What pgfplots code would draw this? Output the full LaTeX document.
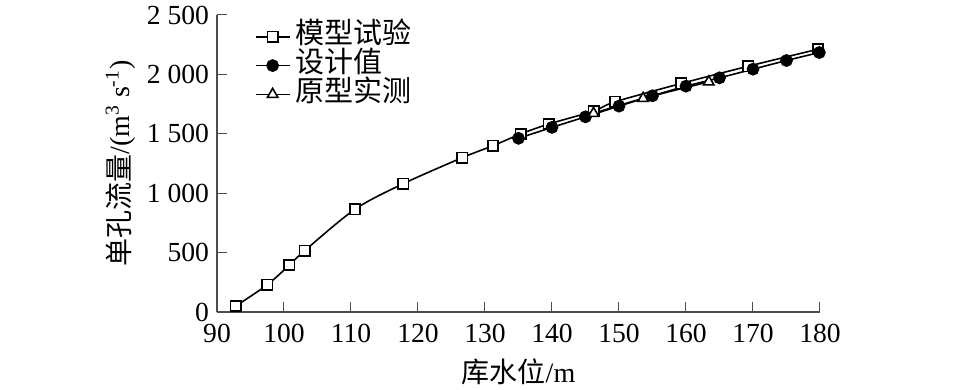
\documentclass[border=0pt]{standalone}
\usepackage{pgfplots}
\pgfplotsset{compat=1.18}
\usepackage{fontspec}
\setmainfont{Liberation Serif}
\newfontfamily\cjk{Noto Sans CJK SC}
\begin{document}
\fontsize{13}{15}\selectfont
\begin{tikzpicture}
\useasboundingbox (-108.5pt,-39pt) rectangle (370pt,156pt);
\begin{axis}[
  at={(0,0)}, anchor=south west,
  scale only axis, width=301.5pt, height=148.5pt,
  xmin=90, xmax=180, ymin=0, ymax=2500,
  axis lines*=left,
  axis line style={line width=0.6pt, black!70},
  tick align=inside,
  major tick length=5pt,
  tick style={line width=0.5pt, black!70},
  xtick={90,100,...,180},
  ytick={0,500,...,2500},
  /pgf/number format/assume math mode=true,
  /pgf/number format/1000 sep={\ },
  ticklabel style={font=\fontsize{13.8}{15}\selectfont},
  yticklabel style={xshift=0.5pt},
  xticklabel style={yshift=-1.5pt},
  xlabel={{\cjk 库水位}/m},
  ylabel={{\cjk 单孔流量}/(m\textsuperscript{3} s\textsuperscript{-1})},
  label style={font=\fontsize{14}{16}\selectfont},
  xlabel style={yshift=1pt},
  ylabel style={yshift=-3pt},
  legend style={at={(0.052,0.99)}, anchor=north west, draw=none, fill=none,
     font=\fontsize{14.5}{16}\selectfont, row sep=0pt,
     nodes={text height=10.5pt, text depth=3.5pt, inner ysep=0.2pt},
     /tikz/every even column/.append style={column sep=2pt},
     /tikz/every odd column/.append style={column sep=0.5pt}},
  legend cell align=left,
]
\addplot[black, line width=0.8pt, smooth, mark=square*, mark size=2.6pt, mark options={fill=white, solid}] coordinates {
(92.8,50) (97.5,229) (100.8,395) (103.1,517) (110.6,865) (117.8,1080) (126.6,1299) (131.2,1400) (135.3,1498) (139.5,1582) (146.2,1691) (149.4,1769) (159.3,1924) (169.3,2069) (179.7,2212)
};
\addlegendentry{\cjk 模型试验}
\addplot[black, line width=0.8pt, smooth, mark=*, mark size=2.8pt, mark options={fill=black, solid}] coordinates {
(135,1462) (140,1554) (145,1643) (150,1733) (155,1820) (160,1901) (165,1971) (170,2044) (175,2117) (179.9,2184)
};
\addlegendentry{\cjk 设计值}
\addplot[black, line width=0.8pt, smooth, mark=triangle*, mark size=3pt, mark options={fill=white, solid}] coordinates {
(146.2,1672) (153.6,1798) (163.4,1937)
};
\addlegendentry{\cjk 原型实测}
\end{axis}
\end{tikzpicture}
\end{document}
